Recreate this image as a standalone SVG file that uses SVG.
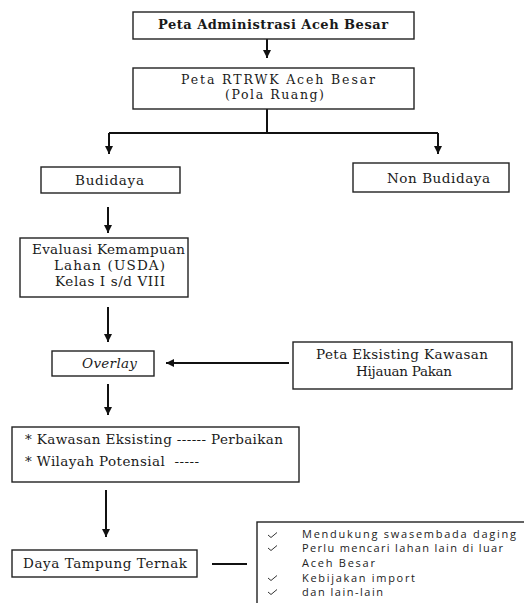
<svg xmlns="http://www.w3.org/2000/svg" width="524" height="603" viewBox="0 0 524 603">
<style>
.box{fill:#fff;stroke:#222;stroke-width:1.4}
.s{font-family:"DejaVu Serif","Liberation Serif",serif;font-size:13.5px;fill:#1a1a1a}
.b{font-weight:bold;font-size:13px}
.t{font-size:12.5px}
.c{text-anchor:middle}
.n{font-family:"Open Sans","DejaVu Sans",sans-serif;font-size:11px;fill:#222}
.ln{stroke:#111;stroke-width:2;fill:none}
.ck{stroke:#333;stroke-width:1;fill:none}
</style>
<defs>
<marker id="ah" markerUnits="userSpaceOnUse" markerWidth="10" markerHeight="10" refX="8" refY="5" orient="auto">
<path d="M0,1 L8,5 L0,9 Z" fill="#111"/>
</marker>
</defs>
<rect width="524" height="603" fill="#fff"/>
<g id="connectors">
<line class="ln" x1="267" y1="39" x2="267" y2="58" marker-end="url(#ah)"/>
<polyline class="ln" points="267,109 267,133"/>
<line class="ln" x1="109" y1="133" x2="438" y2="133"/>
<line class="ln" x1="109" y1="133" x2="109" y2="154" marker-end="url(#ah)"/>
<line class="ln" x1="438" y1="133" x2="438" y2="154" marker-end="url(#ah)"/>
<line class="ln" x1="108" y1="207" x2="108" y2="233" marker-end="url(#ah)"/>
<line class="ln" x1="108" y1="307" x2="108" y2="342" marker-end="url(#ah)"/>
<line class="ln" x1="289" y1="363" x2="166" y2="363" marker-end="url(#ah)"/>
<line class="ln" x1="108" y1="384" x2="108" y2="415" marker-end="url(#ah)"/>
<line class="ln" x1="106" y1="490" x2="106" y2="537" marker-end="url(#ah)"/>
<line class="ln" x1="212" y1="564" x2="247" y2="564"/>
</g>
<g id="n1">
<rect class="box" x="133" y="12" width="281" height="27"/>
<text class="s b c" x="273" y="29" textLength="230">Peta Administrasi Aceh Besar</text>
</g>
<g id="n2">
<rect class="box" x="133" y="68" width="281" height="41"/>
<text class="s t c" x="278" y="84" textLength="194">Peta RTRWK Aceh Besar</text>
<text class="s t c" x="274.5" y="99" textLength="99">(Pola Ruang)</text>
</g>
<g id="n3">
<rect class="box" x="41" y="167" width="139" height="26"/>
<text class="s c" x="109.5" y="185" textLength="69">Budidaya</text>
</g>
<g id="n4">
<rect class="box" x="353" y="163" width="156" height="29"/>
<text class="s c" x="438.5" y="183" textLength="103">Non Budidaya</text>
</g>
<g id="n5">
<rect class="box" x="20" y="238" width="168" height="59"/>
<text class="s c" x="108.5" y="254" textLength="153">Evaluasi Kemampuan</text>
<text class="s c" x="109.5" y="270" textLength="111">Lahan (USDA)</text>
<text class="s c" x="110" y="286" textLength="110">Kelas I s/d VIII</text>
</g>
<g id="n6">
<rect class="box" x="52" y="351" width="102" height="25"/>
<text class="s c" x="109.5" y="368" font-style="italic" textLength="55">Overlay</text>
</g>
<g id="n7">
<rect class="box" x="293" y="342" width="219" height="47"/>
<text class="s c" x="402" y="359" textLength="172">Peta Eksisting Kawasan</text>
<text class="s c" x="404" y="376" textLength="96">Hijauan Pakan</text>
</g>
<g id="n8">
<rect class="box" x="12" y="427" width="287" height="55"/>
<text class="s" x="25" y="444" textLength="258">* Kawasan Eksisting ------ Perbaikan</text>
<text class="s" x="25" y="466" textLength="174" xml:space="preserve">* Wilayah Potensial  -----</text>
</g>
<g id="n9">
<rect class="box" x="12" y="550" width="185" height="27"/>
<text class="s" x="23" y="568" textLength="164">Daya Tampung Ternak</text>
</g>
<g id="n10">
<rect class="box" x="257" y="522" width="290" height="100"/>
<path class="ck" d="M268,535 l3,2.5 l6,-5 M268,548 l3,2.5 l6,-5 M268,578 l3,2.5 l6,-5 M268,592 l3,2.5 l6,-5"/>
<text class="n" x="302" y="538" textLength="214">Mendukung swasembada daging</text>
<text class="n" x="302" y="552" textLength="201">Perlu mencari lahan lain di luar</text>
<text class="n" x="302" y="567" textLength="73">Aceh Besar</text>
<text class="n" x="302" y="582" textLength="113">Kebijakan import</text>
<text class="n" x="302" y="596" textLength="81">dan lain-lain</text>
</g>
</svg>
